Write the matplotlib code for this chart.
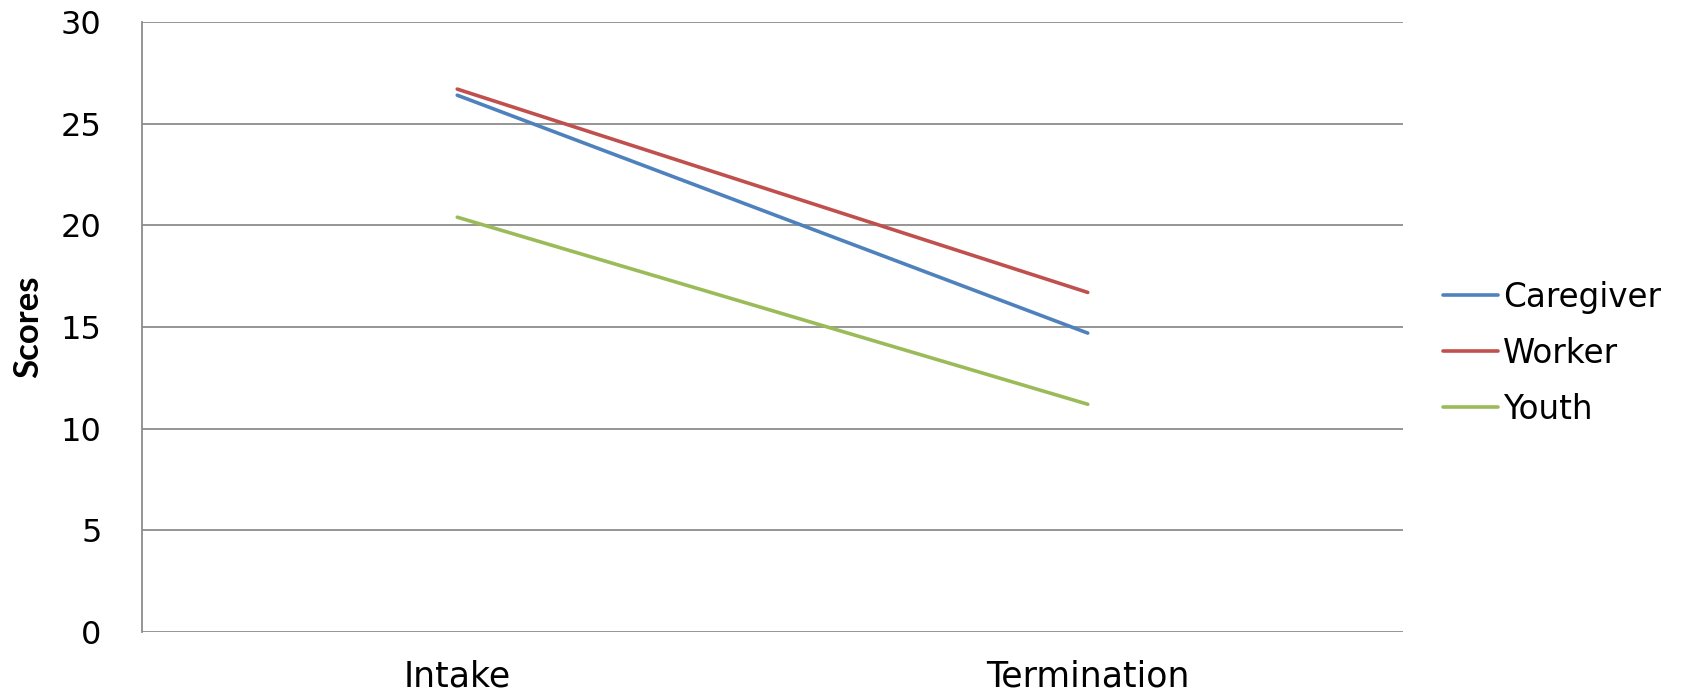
import matplotlib.pyplot as plt

# Mean scores at intake and termination, by respondent
stages = ["Intake", "Termination"]
caregiver = [26.4, 14.7]
worker = [26.7, 16.7]
youth = [20.4, 11.2]

series = [
    ("Caregiver", caregiver, "#4F81BD"),
    ("Worker", worker, "#C0504D"),
    ("Youth", youth, "#9BBB59"),
]

plt.rcParams["font.family"] = ["DejaVu Sans"]

fig = plt.figure(figsize=(16.86, 6.91), dpi=100)
ax = fig.add_axes([142 / 1686, 1 - 632 / 691, (1403 - 142) / 1686, (632 - 22) / 691])

x = range(len(stages))
for name, vals, col in series:
    ax.plot(x, vals, color=col, lw=2.6, label=name, solid_capstyle="round")

ax.set_xlim(-0.5, 1.5)
ax.set_ylim(0, 30)
ax.set_yticks(range(0, 31, 5))
ax.set_xticks(list(x))
ax.set_xticklabels(stages)
ax.tick_params(axis="y", length=0, pad=29, labelsize=23)
ax.tick_params(axis="x", length=0, pad=20, labelsize=25)
ax.grid(axis="y", color="#8c8c8c", lw=1.3)
ax.set_axisbelow(True)
for side in ["top", "right", "bottom"]:
    ax.spines[side].set_visible(False)
ax.spines["left"].set_color("#8c8c8c")
ax.spines["left"].set_linewidth(1.3)

ax.set_ylabel("Scores", fontsize=25, fontweight="bold", family="Lato")
ax.yaxis.set_label_coords(-98 / 1261, 0.5)

ax.legend(loc="center left", bbox_to_anchor=(1.0216, 0.457), frameon=False,
          fontsize=23.5, handlelength=1.68, handletextpad=0.15, labelspacing=0.7,
          borderaxespad=0)

fig.savefig("out.png", dpi=100)
